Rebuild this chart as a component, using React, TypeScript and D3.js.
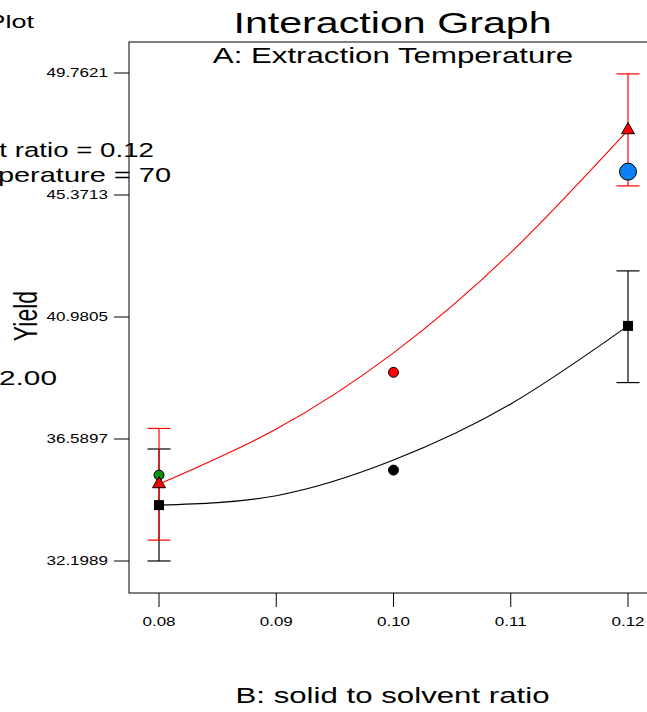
import React from "react";
import * as d3 from "d3";

// B: solid to solvent ratio
const ratios = [0.08, 0.09, 0.1, 0.11, 0.12];
const xTickLabels = ["0.08", "0.09", "0.10", "0.11", "0.12"];
const yTickValues = [32.1989, 36.5897, 40.9805, 45.3713, 49.7621];
const yTickLabels = ["32.1989", "36.5897", "40.9805", "45.3713", "49.7621"];

// predicted yield lines (A high = red, A low = black)
const fitHigh = [34.97, 36.95, 39.69, 43.3, 47.71];
const fitLow = [34.21, 34.55, 35.83, 37.85, 40.66];

// LSD bars at the ends
const barRatios = [0.08, 0.12];
const highMean = [34.97, 47.71];
const highLower = [32.95, 45.7];
const highUpper = [36.97, 49.73];
const lowMean = [34.21, 40.66];
const lowLower = [32.2, 38.62];
const lowUpper = [36.23, 42.64];

// design points
const pointRatios = [0.08, 0.1, 0.1, 0.12];
const pointYields = [35.29, 38.99, 35.47, 46.21];
const pointColors = ["#0e8f0e", "#ff0000", "#000000", "#0a80f5"];
const pointBig = [false, false, false, true];

const W = 647;
const H = 712;
const frame = { left: 129, right: 656, top: 42, bottom: 593 };
const S = 1.42; // horizontal stretch of all text
const font = "'Liberation Sans', Arial, sans-serif";

const x = d3.scaleLinear().domain([0.08, 0.12]).range([159, 628]);
const y = d3.scaleLinear().domain([32.1989, 49.7621]).range([561, 73]);

const Txt = ({ x, y, size, anchor = "middle", rotate = 0, children }: any) => (
    <text
        transform={`translate(${x},${y}) scale(${S},1)${rotate ? ` rotate(${rotate})` : ""}`}
        fontSize={size}
        textAnchor={anchor}
        fontFamily={font}
        fill="#000"
    >
        {children}
    </text>
);

const App = () => {
    const line = d3
        .line<number>()
        .x((d, i) => x(ratios[i]))
        .y((d) => y(d))
        .curve(d3.curveNatural);

    const tri = d3.symbol().type(d3.symbolTriangle).size(72)();
    const sq = d3.symbol().type(d3.symbolSquare).size(100)();

    const bar = (xv: number, lo: number, hi: number, color: string, k: string) => (
        <g key={k} stroke={color} strokeWidth={1.2}>
            <line x1={x(xv)} x2={x(xv)} y1={y(lo)} y2={y(hi)} />
            <line x1={x(xv) - 11.5} x2={x(xv) + 11.5} y1={y(lo)} y2={y(lo)} />
            <line x1={x(xv) - 11.5} x2={x(xv) + 11.5} y1={y(hi)} y2={y(hi)} />
        </g>
    );

    return (
        <svg width={W} height={H} style={{ position: "absolute", left: 0, top: 0 }}>
            <rect width={W} height={H} fill="#fff" />

            {/* side texts, cut off at the left edge */}
            <Txt x={34} y={28} size={19} anchor="end">Plot</Txt>
            <Txt x={154} y={157} size={19.5} anchor="end">t ratio = 0.12</Txt>
            <Txt x={171} y={182} size={20.4} anchor="end">perature = 70</Txt>
            <Txt x={57} y={385} size={21} anchor="end">2.00</Txt>

            <Txt x={392.5} y={33} size={29}>Interaction Graph</Txt>
            <Txt x={393} y={63} size={22}>A: Extraction Temperature</Txt>
            <Txt x={392.5} y={703} size={22}>B: solid to solvent ratio</Txt>
            <Txt x={37} y={316} size={23} rotate={-90}>Yield</Txt>

            {/* frame */}
            <rect
                x={frame.left}
                y={frame.top}
                width={frame.right - frame.left}
                height={frame.bottom - frame.top}
                fill="none"
                stroke="#000"
                strokeWidth={1}
            />

            {/* y axis */}
            {yTickValues.map((v, i) => (
                <g key={"y" + i}>
                    <line x1={114} x2={frame.left} y1={y(v)} y2={y(v)} stroke="#000" />
                    <Txt x={108} y={y(v) + 4} size={12} anchor="end">
                        {yTickLabels[i]}
                    </Txt>
                </g>
            ))}

            {/* x axis */}
            {ratios.map((v, i) => (
                <g key={"x" + i}>
                    <line x1={x(v)} x2={x(v)} y1={frame.bottom} y2={607} stroke="#000" />
                    <Txt x={x(v)} y={626} size={12}>
                        {xTickLabels[i]}
                    </Txt>
                </g>
            ))}

            {/* fitted lines */}
            <path d={line(fitLow) || ""} fill="none" stroke="#000" strokeWidth={1.1} />
            <path d={line(fitHigh) || ""} fill="none" stroke="#ff0000" strokeWidth={1.1} />

            {/* error bars */}
            {barRatios.map((v, i) => bar(v, lowLower[i], lowUpper[i], "#000", "lb" + i))}
            {barRatios.map((v, i) => bar(v, highLower[i], highUpper[i], "#ff0000", "hb" + i))}

            {/* design points */}
            {pointRatios.map((v, i) => (
                <circle
                    key={"p" + i}
                    cx={x(v)}
                    cy={y(pointYields[i])}
                    r={pointBig[i] ? 8.5 : 5}
                    fill={pointColors[i]}
                    stroke="#000"
                    strokeWidth={1}
                />
            ))}

            {/* mean markers */}
            {barRatios.map((v, i) => (
                <path key={"sq" + i} d={sq || ""} transform={`translate(${x(v)},${y(lowMean[i])})`} fill="#000" />
            ))}
            {barRatios.map((v, i) => (
                <path
                    key={"tr" + i}
                    d={tri || ""}
                    transform={`translate(${x(v)},${y(highMean[i])})`}
                    fill="#ff0000"
                    stroke="#000"
                    strokeWidth={1}
                />
            ))}
        </svg>
    );
};

export default App;
